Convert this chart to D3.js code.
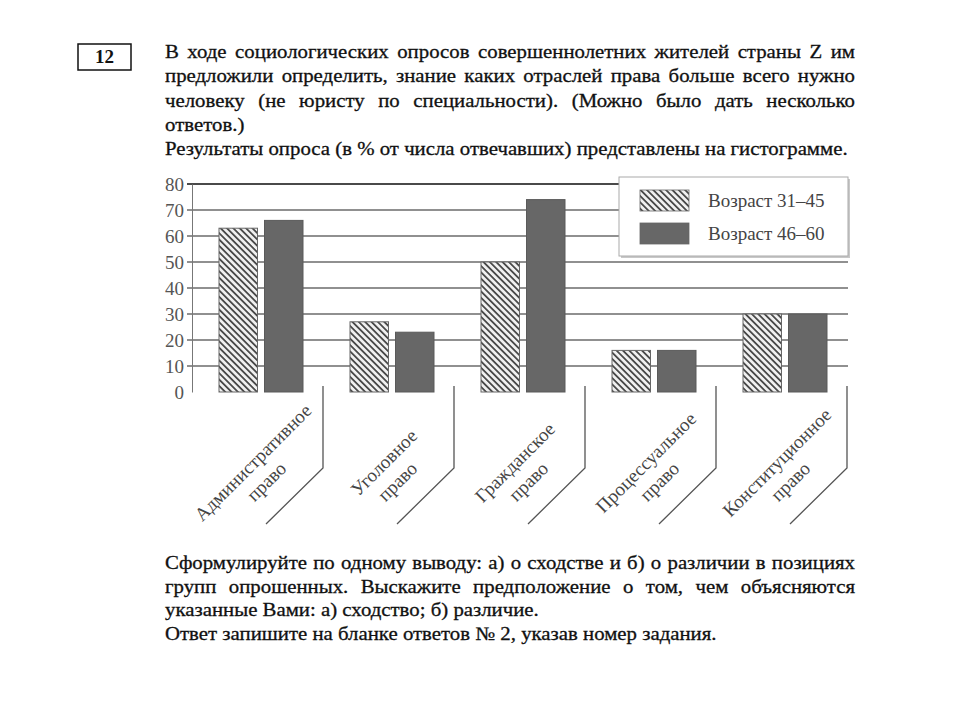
<!DOCTYPE html>
<html>
<head>
<meta charset="utf-8">
<script src="https://cdn.jsdelivr.net/npm/d3@7"></script>
<style>
  html, body { margin: 0; padding: 0; background: #fff; }
  svg { display: block; }
</style>
</head>
<body>
<svg id="chart" width="960" height="720"></svg>
<script>
// ---- data ----
const categories = ["Административное право", "Уголовное право", "Гражданское право", "Процессуальное право", "Конституционное право"];
const seriesNames = ["Возраст 31–45", "Возраст 46–60"];
const age31_45 = [63, 27, 50, 16, 30];
const age46_60 = [66, 23, 74, 16, 30];
const yTicks = [0, 10, 20, 30, 40, 50, 60, 70, 80];
const taskNumber = "12";
const introLines = [
  "В ходе социологических опросов совершеннолетних жителей страны Z им",
  "предложили определить, знание каких отраслей права больше всего нужно",
  "человеку (не юристу по специальности). (Можно было дать несколько",
  "ответов.)",
  "Результаты опроса (в % от числа отвечавших) представлены на гистограмме."
];
const introJustify = [true, true, true, false, false];
const outroLines = [
  "Сформулируйте по одному выводу: а) о сходстве и б) о различии в позициях",
  "групп опрошенных. Выскажите предположение о том, чем объясняются",
  "указанные Вами: а) сходство; б) различие.",
  "Ответ запишите на бланке ответов № 2, указав номер задания."
];
const outroJustify = [true, true, false, false];

// ---- layout ----
const SERIF = "'Liberation Serif', 'Times New Roman', Tinos, 'DejaVu Serif', serif";
const svg = d3.select("#chart").attr("font-family", SERIF);
const plot = { left: 192, right: 847, top: 184, bottom: 392 };
const textLeft = 165, textRight = 855;
const STRETCH = 1.095;

const defs = svg.append("defs");
const pat = defs.append("pattern")
  .attr("id", "hatch")
  .attr("patternUnits", "userSpaceOnUse")
  .attr("width", 4.5).attr("height", 4.5)
  .attr("patternTransform", "rotate(45)");
pat.append("rect").attr("width", 4.5).attr("height", 4.5).attr("fill", "#f0f0f0");
pat.append("rect").attr("width", 4.5).attr("height", 1.8).attr("fill", "#4a4a4a");

function stretch(sel) {
  const w = sel.node().getComputedTextLength();
  sel.attr("textLength", w * STRETCH).attr("lengthAdjust", "spacingAndGlyphs");
  return w * STRETCH;
}

// ---- text helpers ----
function drawLines(lines, justify, y0, dy, size) {
  lines.forEach((line, i) => {
    const yy = y0 + i * dy;
    if (!justify[i]) {
      const t = svg.append("text").attr("x", textLeft).attr("y", yy)
        .attr("font-family", SERIF)
        .attr("font-size", size).attr("fill", "#111")
        .attr("stroke", "#111").attr("stroke-width", 0.3)
        .text(line);
      stretch(t);
      return;
    }
    const words = line.split(" ");
    const g = svg.append("g");
    const nodes = words.map(w => g.append("text").attr("y", yy)
      .attr("font-family", SERIF)
      .attr("font-size", size).attr("fill", "#111")
      .attr("stroke", "#111").attr("stroke-width", 0.3).text(w));
    const widths = nodes.map(n => stretch(n));
    const total = d3.sum(widths);
    const gap = (textRight - textLeft - total) / (words.length - 1);
    let xx = textLeft;
    nodes.forEach((n, k) => { n.attr("x", xx); xx += widths[k] + gap; });
  });
}

// task number box
svg.append("rect").attr("x", 78).attr("y", 44).attr("width", 53).attr("height", 26)
  .attr("fill", "none").attr("stroke", "#111").attr("stroke-width", 1.5);
svg.append("text").attr("x", 104.5).attr("y", 63).attr("text-anchor", "middle")
  .attr("font-family", SERIF)
  .attr("font-size", 19).attr("font-weight", "bold").attr("fill", "#111").text(taskNumber);

drawLines(introLines, introJustify, 58, 24.3, 19);
drawLines(outroLines, outroJustify, 569, 23.7, 19);

// ---- scales ----
const x = d3.scaleBand().domain(categories).range([plot.left, plot.right]).padding(0);
const xInner = d3.scaleBand().domain([0, 1]).range([27, 111]).paddingInner(0.154).paddingOuter(0);
const y = d3.scaleLinear().domain([0, 80]).range([plot.bottom, plot.top]);

// gridlines
svg.append("g").selectAll("line").data(yTicks.filter(t => t > 0)).join("line")
  .attr("x1", plot.left - 5).attr("x2", plot.right + 1)
  .attr("y1", d => y(d)).attr("y2", d => y(d))
  .attr("stroke", d => d === 80 ? "#4a4a4a" : "#909090")
  .attr("stroke-width", 2);

// y axis
const yAxis = d3.axisLeft(y).tickValues(yTicks).tickSize(0).tickPadding(8);
const ga = svg.append("g").attr("transform", `translate(${plot.left},0)`).call(yAxis)
  .attr("font-family", SERIF);
ga.select(".domain").attr("stroke", "#777").attr("stroke-width", 1);
ga.selectAll("text").attr("font-size", 19).attr("fill", "#555")
  .attr("font-family", SERIF);

// bars
const values = [age31_45, age46_60];
const fills = ["url(#hatch)", "#676767"];
values.forEach((vals, s) => {
  svg.append("g").selectAll("rect").data(categories).join("rect")
    .attr("x", (c) => x(c) + xInner(s))
    .attr("width", xInner.bandwidth())
    .attr("y", (c, i) => y(vals[i]))
    .attr("height", (c, i) => y(0) - y(vals[i]))
    .attr("fill", fills[s])
    .attr("stroke", s === 0 ? "#666" : "#5a5a5a")
    .attr("stroke-width", 1);
});

// category separators
svg.append("g").selectAll("path").data(categories).join("path")
  .attr("d", c => {
    const xr = x(c) + x.bandwidth();
    return `M${xr},${y(0) - 6}L${xr},468L${xr - 57},524`;
  })
  .attr("fill", "none").attr("stroke", "#555").attr("stroke-width", 1.3);

// category labels
const labels = svg.append("g").selectAll("text").data(categories).join("text")
  .attr("transform", c => `translate(${x(c) + x.bandwidth() / 2},467) rotate(-45)`)
  .attr("font-family", SERIF)
  .attr("text-anchor", "middle").attr("font-size", 19).attr("fill", "#444");
labels.each(function(c) {
  const parts = c.split(" ");
  d3.select(this).selectAll("tspan").data(parts).join("tspan")
    .attr("x", (d, i) => i === 0 ? 0 : -4).attr("dy", (d, i) => i === 0 ? 0 : 23).text(d => d);
});

// legend
const lg = svg.append("g");
lg.append("rect").attr("x", 621).attr("y", 179).attr("width", 229).attr("height", 79).attr("fill", "#c8c8c8");
lg.append("rect").attr("x", 619).attr("y", 177).attr("width", 229).attr("height", 79)
  .attr("fill", "#fff").attr("stroke", "#aaa").attr("stroke-width", 1);
seriesNames.forEach((name, s) => {
  lg.append("rect").attr("x", 640).attr("y", 190 + s * 33).attr("width", 49).attr("height", 21)
    .attr("fill", fills[s]).attr("stroke", "#666").attr("stroke-width", 0.8);
  lg.append("text").attr("x", 708).attr("y", 207 + s * 33)
    .attr("font-family", SERIF)
    .attr("font-size", 19).attr("fill", "#444").text(name);
});
</script>
</body>
</html>
